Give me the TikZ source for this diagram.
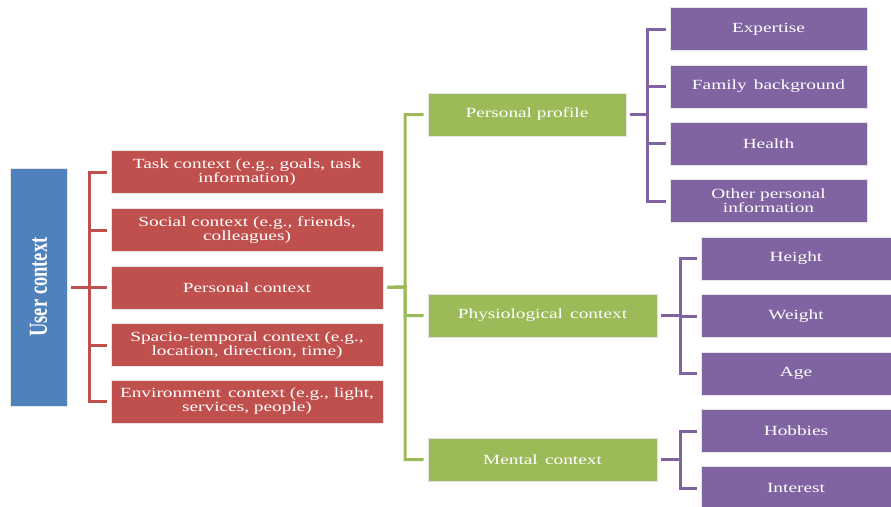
\documentclass[tikz,border=0pt]{standalone}
\usepackage{fontspec}
\setmainfont{Liberation Serif}[FakeStretch=1.38]
\newfontfamily\ucfont{Liberation Serif}
\definecolor{cblue}{HTML}{4F81BD}
\definecolor{cred}{HTML}{C0504D}
\definecolor{cgreen}{HTML}{9BBB59}
\definecolor{cpurple}{HTML}{8064A2}
\tikzset{
  cbox/.style={rectangle, draw=white!80!gray, line width=0.6pt, text=white, align=center, inner sep=0pt, minimum height=43pt, font=\fontsize{14}{14}\selectfont},
  redbox/.style={cbox, fill=cred, minimum width=272pt},
  greenbox/.style={cbox, fill=cgreen},
  purplebox/.style={cbox, fill=cpurple},
  conn/.style={line width=3pt, shorten <=4pt, shorten >=4pt},
  redconn/.style={conn, draw=cred},
  greenconn/.style={conn, draw=cgreen},
  purpleconn/.style={conn, draw=cpurple},
}
\begin{document}
\begin{tikzpicture}[x=1pt,y=-1pt]
\useasboundingbox (0,0) rectangle (891,506);
% root
\node[rectangle, fill=cblue, draw=white!80!gray, line width=0.6pt, minimum width=57pt, minimum height=238pt, inner sep=0pt] (uc) at (38.5,287) {};
\node[rotate=90, text=white, inner sep=0pt] (uct) at (uc.center) {\scalebox{1}[1.4]{\ucfont\fontsize{18.5}{20}\selectfont\bfseries User context}};
% red
\node[redbox] (t1) at (247,172) {Task context (e.g., goals, task\\information)};
\node[redbox] (t2) at (247,230) {Social context (e.g., friends,\\colleagues)};
\node[redbox] (t3) at (247,287.5) {Personal context};
\node[redbox] (t4) at (247,345) {Spacio-temporal context (e.g.,\\location, direction, time)};
\node[redbox] (t5) at (247,401.5) {Environment\, context (e.g., light,\\services, people)};
% green
\node[greenbox, minimum width=198pt] (pp) at (527,114.5) {Personal profile};
\node[greenbox, minimum width=229pt] (ph) at (542.5,315.5) {Physiological\, context};
\node[greenbox, minimum width=229pt] (mc) at (542.5,459.5) {Mental\, context};
% purple
\node[purplebox, minimum width=197pt] (ex) at (768.5,29) {Expertise};
\node[purplebox, minimum width=197pt] (fb) at (768.5,86.5) {Family\, background};
\node[purplebox, minimum width=197pt] (he) at (768.5,143.5) {Health};
\node[purplebox, minimum width=197pt] (op) at (768.5,201) {Other personal\\information};
\node[purplebox, minimum width=190pt] (hg) at (796,258.5) {Height};
\node[purplebox, minimum width=190pt] (wg) at (796,316) {Weight};
\node[purplebox, minimum width=190pt] (ag) at (796,373.5) {Age};
\node[purplebox, minimum width=190pt] (hb) at (796,431) {Hobbies};
\node[purplebox, minimum width=190pt] (in) at (796,488) {Interest};
% spines
\coordinate (rs) at (89,287);
\coordinate (gs) at (405,287);
\coordinate (ps1) at (647,114.5);
\coordinate (ps2) at (680,315.5);
\coordinate (ps3) at (680,459.5);
% red connectors
\foreach \n in {t1,t2,t3,t4,t5} {
  \draw[redconn] (uc.east) -- (rs) |- (\n.west);
}
% green connectors
\foreach \n in {pp,ph,mc} {
  \draw[greenconn] (t3.east) -- (gs) |- (\n.west);
}
% purple connectors
\foreach \n in {ex,fb,he,op} {
  \draw[purpleconn] (pp.east) -- (ps1) |- (\n.west);
}
\foreach \n in {hg,wg,ag} {
  \draw[purpleconn] (ph.east) -- (ps2) |- (\n.west);
}
\foreach \n in {hb,in} {
  \draw[purpleconn] (mc.east) -- (ps3) |- (\n.west);
}
\end{tikzpicture}
\end{document}
